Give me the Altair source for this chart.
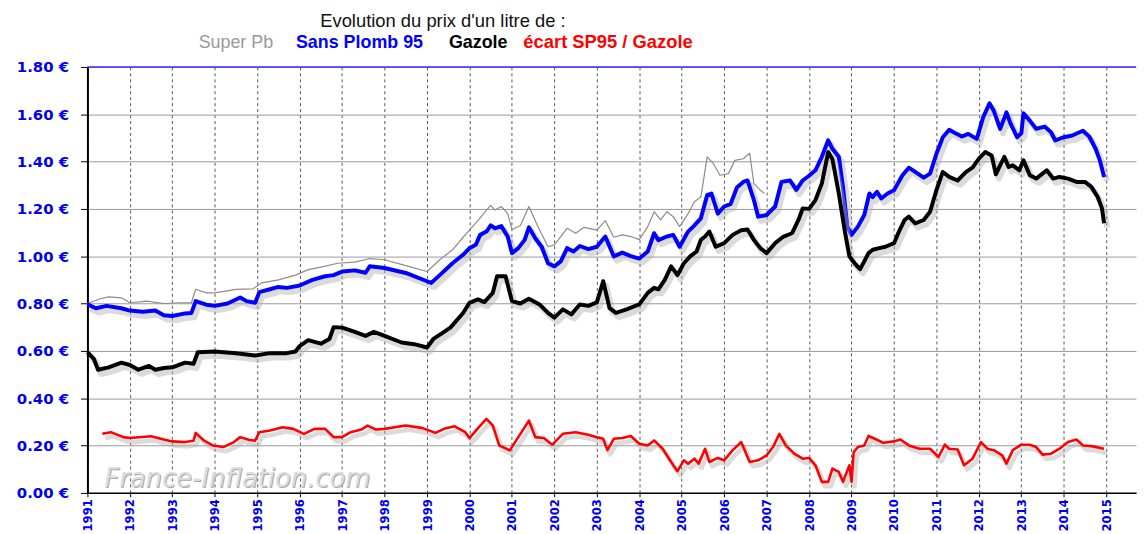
import altair as alt
import pandas as pd

# ---------------- data ----------------
sp95_t = [1991.0, 1991.2, 1991.45, 1991.8, 1992.0, 1992.3, 1992.6, 1992.8, 1993.0, 1993.3, 1993.45, 1993.55,
          1993.8, 1994.0, 1994.3, 1994.6, 1994.75, 1994.95, 1995.05, 1995.3, 1995.5, 1995.7, 1996.0, 1996.3,
          1996.6, 1996.8, 1997.0, 1997.3, 1997.55, 1997.65, 1998.0, 1998.5, 1999.0, 1999.1, 1999.3, 1999.6,
          1999.85, 2000.0, 2000.15, 2000.25, 2000.4, 2000.5, 2000.6, 2000.75, 2000.9, 2001.0, 2001.15, 2001.3,
          2001.4, 2001.55, 2001.7, 2001.85, 2002.0, 2002.15, 2002.3, 2002.45, 2002.6, 2002.8, 2003.0, 2003.2,
          2003.4, 2003.6, 2003.8, 2004.0, 2004.2, 2004.35, 2004.45, 2004.65, 2004.8, 2004.95, 2005.15, 2005.3,
          2005.45, 2005.6, 2005.7, 2005.85, 2006.0, 2006.15, 2006.3, 2006.45, 2006.55, 2006.7, 2006.8, 2007.0,
          2007.2, 2007.35, 2007.55, 2007.7, 2007.85, 2008.0, 2008.15, 2008.3, 2008.45, 2008.55, 2008.7, 2008.8,
          2008.9, 2009.0, 2009.15, 2009.3, 2009.42, 2009.5, 2009.6, 2009.7, 2009.85, 2010.0, 2010.2, 2010.35,
          2010.5, 2010.7, 2010.85, 2011.0, 2011.15, 2011.3, 2011.45, 2011.6, 2011.75, 2011.95, 2012.1, 2012.25,
          2012.35, 2012.5, 2012.65, 2012.75, 2012.9, 2013.0, 2013.05, 2013.2, 2013.35, 2013.55, 2013.7, 2013.8,
          2014.0, 2014.2, 2014.45, 2014.6, 2014.75, 2014.85, 2014.95]
sp95_v = [0.796, 0.78, 0.79, 0.78, 0.77, 0.765, 0.77, 0.75, 0.747, 0.758, 0.76, 0.81,
          0.795, 0.79, 0.80, 0.825, 0.81, 0.803, 0.848, 0.86, 0.87, 0.866, 0.876, 0.90,
          0.915, 0.92, 0.935, 0.94, 0.93, 0.957, 0.95, 0.929, 0.894, 0.887, 0.92, 0.97,
          1.006, 1.034, 1.048, 1.09, 1.104, 1.13, 1.118, 1.127, 1.083, 1.013, 1.034, 1.069,
          1.122, 1.076, 1.04, 0.97, 0.957, 0.978, 1.034, 1.02, 1.043, 1.03, 1.04, 1.083,
          0.999, 1.015, 1.0, 0.99, 1.02, 1.097, 1.068, 1.083, 1.09, 1.04, 1.104, 1.13,
          1.16, 1.258, 1.265, 1.18, 1.21, 1.22, 1.29, 1.314, 1.32, 1.237, 1.167, 1.174,
          1.21, 1.314, 1.32, 1.28, 1.32, 1.34, 1.363, 1.42, 1.49, 1.454, 1.42, 1.29,
          1.125, 1.09, 1.125, 1.174, 1.265, 1.25, 1.272, 1.244, 1.265, 1.279, 1.342, 1.374,
          1.356, 1.332, 1.349, 1.433, 1.503, 1.534, 1.52, 1.506, 1.517, 1.496, 1.587, 1.646,
          1.615, 1.538, 1.608, 1.559, 1.503, 1.52, 1.604, 1.573, 1.538, 1.548, 1.524, 1.489,
          1.503, 1.51, 1.53, 1.506, 1.454, 1.405, 1.335]

gazole_t = [1991.0, 1991.15, 1991.25, 1991.5, 1991.8, 1992.0, 1992.2, 1992.45, 1992.6, 1992.8, 1993.0, 1993.3,
            1993.5, 1993.6, 1994.0, 1994.5, 1994.95, 1995.3, 1995.7, 1995.9, 1996.0, 1996.2, 1996.5, 1996.7,
            1996.8, 1997.0, 1997.3, 1997.55, 1997.75, 1998.0, 1998.4, 1998.7, 1999.0, 1999.15, 1999.35, 1999.55,
            1999.85, 2000.0, 2000.2, 2000.35, 2000.55, 2000.65, 2000.85, 2001.0, 2001.2, 2001.4, 2001.65, 2001.85,
            2002.0, 2002.2, 2002.4, 2002.6, 2002.8, 2003.0, 2003.15, 2003.3, 2003.45, 2003.7, 2004.0, 2004.2,
            2004.35, 2004.45, 2004.6, 2004.75, 2004.9, 2005.05, 2005.2, 2005.35, 2005.45, 2005.55, 2005.65, 2005.8,
            2006.0, 2006.2, 2006.4, 2006.55, 2006.7, 2006.85, 2007.0, 2007.2, 2007.4, 2007.6, 2007.75, 2007.85,
            2008.0, 2008.15, 2008.3, 2008.45, 2008.55, 2008.7, 2008.85, 2008.95, 2009.1, 2009.2, 2009.3, 2009.4,
            2009.5, 2009.65, 2009.8, 2010.0, 2010.1, 2010.25, 2010.35, 2010.5, 2010.7, 2010.85, 2011.0, 2011.15,
            2011.3, 2011.5, 2011.7, 2011.85, 2012.0, 2012.15, 2012.3, 2012.4, 2012.5, 2012.6, 2012.7, 2012.8,
            2012.95, 2013.05, 2013.2, 2013.35, 2013.5, 2013.6, 2013.75, 2013.9, 2014.1, 2014.3, 2014.5, 2014.65,
            2014.8, 2014.9, 2014.95]
gazole_v = [0.594, 0.566, 0.52, 0.53, 0.55, 0.54, 0.52, 0.536, 0.52, 0.527, 0.53, 0.55,
            0.545, 0.594, 0.597, 0.59, 0.58, 0.59, 0.59, 0.597, 0.62, 0.645, 0.63, 0.65,
            0.70, 0.698, 0.68, 0.663, 0.68, 0.663, 0.635, 0.628, 0.614, 0.65, 0.674, 0.698,
            0.76, 0.803, 0.817, 0.806, 0.845, 0.915, 0.915, 0.81, 0.80, 0.82, 0.796, 0.76,
            0.74, 0.775, 0.754, 0.796, 0.79, 0.805, 0.894, 0.78, 0.76, 0.775, 0.796, 0.845,
            0.866, 0.86, 0.90, 0.957, 0.92, 0.97, 0.999, 1.02, 1.069, 1.083, 1.104, 1.04,
            1.055, 1.09, 1.11, 1.113, 1.069, 1.034, 1.013, 1.055, 1.083, 1.097, 1.153, 1.202,
            1.20, 1.237, 1.307, 1.44, 1.41, 1.265, 1.097, 0.999, 0.964, 0.945, 0.978, 1.013,
            1.027, 1.034, 1.04, 1.055, 1.097, 1.153, 1.167, 1.139, 1.153, 1.188, 1.279, 1.356,
            1.335, 1.32, 1.356, 1.374, 1.412, 1.44, 1.426, 1.346, 1.384, 1.42, 1.377, 1.384,
            1.363, 1.405, 1.342, 1.328, 1.349, 1.363, 1.328, 1.335, 1.328, 1.314, 1.314, 1.293,
            1.25, 1.202, 1.139]

superpb_t = [1991.0, 1991.3, 1991.5, 1991.8, 1992.0, 1992.4, 1992.8, 1993.2, 1993.45, 1993.55, 1993.8, 1994.0,
             1994.5, 1994.9, 1995.1, 1995.5, 1995.9, 1996.2, 1996.5, 1996.9, 1997.3, 1997.65, 1998.0, 1998.5,
             1999.0, 1999.3, 1999.6, 1999.85, 2000.0, 2000.2, 2000.4, 2000.5, 2000.6, 2000.75, 2000.9, 2001.0,
             2001.2, 2001.4, 2001.6, 2001.85, 2002.0, 2002.3, 2002.5, 2002.7, 2003.0, 2003.2, 2003.4, 2003.6,
             2003.8, 2004.0, 2004.2, 2004.35, 2004.5, 2004.65, 2004.8, 2004.95, 2005.15, 2005.3, 2005.45, 2005.6,
             2005.75, 2005.9, 2006.1, 2006.25, 2006.45, 2006.6, 2006.7, 2006.85, 2006.95]
superpb_v = [0.80, 0.82, 0.828, 0.824, 0.803, 0.81, 0.80, 0.803, 0.803, 0.86, 0.845, 0.845,
             0.86, 0.862, 0.887, 0.90, 0.92, 0.943, 0.954, 0.97, 0.975, 0.99, 0.985, 0.96,
             0.935, 0.985, 1.027, 1.08, 1.11, 1.15, 1.195, 1.215, 1.195, 1.21, 1.18, 1.113,
             1.13, 1.21, 1.13, 1.04, 1.048, 1.118, 1.097, 1.122, 1.11, 1.15, 1.08, 1.09,
             1.083, 1.07, 1.125, 1.188, 1.153, 1.188, 1.167, 1.125, 1.18, 1.23, 1.25, 1.42,
             1.39, 1.342, 1.349, 1.405, 1.412, 1.435, 1.307, 1.279, 1.265]

ecart_t = [1991.35, 1991.55, 1991.85, 1992.0, 1992.5, 1992.8, 1993.0, 1993.3, 1993.5, 1993.55, 1993.75, 1993.95,
           1994.2, 1994.45, 1994.6, 1994.8, 1994.95, 1995.05, 1995.3, 1995.6, 1995.85, 1996.1, 1996.35, 1996.6,
           1996.8, 1997.0, 1997.2, 1997.45, 1997.6, 1997.8, 1998.0, 1998.5, 1998.9, 1999.2, 1999.4, 1999.65,
           1999.9, 2000.0, 2000.2, 2000.4, 2000.55, 2000.7, 2000.95, 2001.15, 2001.4, 2001.55, 2001.75, 2001.95,
           2002.2, 2002.5, 2002.8, 2003.0, 2003.15, 2003.25, 2003.4, 2003.6, 2003.8, 2004.0, 2004.2, 2004.35,
           2004.55, 2004.8, 2004.9, 2005.05, 2005.15, 2005.3, 2005.4, 2005.55, 2005.65, 2005.85, 2006.0, 2006.2,
           2006.4, 2006.6, 2006.8, 2007.0, 2007.15, 2007.3, 2007.45, 2007.65, 2007.85, 2008.0, 2008.15, 2008.3,
           2008.45, 2008.55, 2008.7, 2008.8, 2008.95, 2009.0, 2009.05, 2009.15, 2009.3, 2009.4, 2009.55, 2009.75,
           2010.0, 2010.15, 2010.35, 2010.6, 2010.85, 2011.05, 2011.2, 2011.3, 2011.5, 2011.65, 2011.85, 2012.05,
           2012.2, 2012.35, 2012.55, 2012.65, 2012.8, 2013.0, 2013.2, 2013.35, 2013.5, 2013.7, 2013.9, 2014.1,
           2014.3, 2014.45, 2014.65, 2014.95]
ecart_v = [0.249, 0.256, 0.235, 0.231, 0.239, 0.225, 0.217, 0.214, 0.22, 0.253, 0.22, 0.20,
           0.193, 0.214, 0.235, 0.224, 0.22, 0.256, 0.263, 0.277, 0.27, 0.249, 0.27, 0.27,
           0.235, 0.235, 0.256, 0.267, 0.284, 0.267, 0.27, 0.284, 0.273, 0.253, 0.27, 0.281,
           0.256, 0.231, 0.273, 0.312, 0.284, 0.20, 0.179, 0.235, 0.305, 0.235, 0.231, 0.203,
           0.249, 0.256, 0.245, 0.235, 0.228, 0.18, 0.228, 0.231, 0.24, 0.207, 0.20, 0.221,
           0.186, 0.116, 0.091, 0.137, 0.123, 0.144, 0.123, 0.186, 0.13, 0.147, 0.137, 0.18,
           0.214, 0.13, 0.137, 0.158, 0.193, 0.249, 0.20, 0.165, 0.144, 0.147, 0.116, 0.046,
           0.046, 0.102, 0.088, 0.046, 0.116, 0.046, 0.172, 0.193, 0.20, 0.24, 0.228, 0.211,
           0.217, 0.225, 0.20, 0.186, 0.186, 0.151, 0.203, 0.186, 0.183, 0.116, 0.144, 0.214,
           0.186, 0.18, 0.158, 0.123, 0.18, 0.203, 0.203, 0.193, 0.161, 0.165, 0.186, 0.214,
           0.225, 0.20, 0.197, 0.186]

year_ticks = list(range(1991, 2016))
price_ticks = [round(i * 0.1, 1) for i in range(19)]

title_text = "Evolution du prix d'un litre de :"
legend_labels = ["Super Pb", "Sans Plomb 95", "Gazole", "écart SP95 / Gazole"]
legend_colors = ["#999999", "#0000ff", "#000000", "#ff0000"]
watermark = "France-Inflation.com"

# ---------------- build ----------------
def frame(t, v, s):
    return pd.DataFrame({"t": t, "v": v, "s": s})

df_sp95 = frame(sp95_t, sp95_v, "sp95")
df_gaz = frame(gazole_t, gazole_v, "gazole")
df_spb = frame(superpb_t, superpb_v, "superpb")
df_ec = frame(ecart_t, ecart_v, "ecart")

W, H = 1056, 428.8
x_scale = alt.Scale(domain=[1991, 1991 + W / 42.75], nice=False, zero=False)
y_scale = alt.Scale(domain=[0, 1.8], nice=False, zero=False)

odd = "round(datum.value*10) % 2 == 1"
x_axis = alt.Axis(values=year_ticks, format="d", labelAngle=270, labelColor="#0000ee",
                  labelFont="DejaVu Sans Condensed", labelFontWeight="bold", labelFontSize=13,
                  labelPadding=2, labelOverlap=False, grid=True, gridColor="#555555",
                  gridDash=[3, 3], gridWidth=1, domainColor="#000000", domainWidth=1.5,
                  tickColor="#000000", tickSize=4, title=None)
y_axis = alt.Axis(values=price_ticks,
                  labelExpr="round(datum.value*10) % 2 == 0 ? format(datum.value, '.2f') + ' €' : ''",
                  labelColor="#0000ee", labelFont="DejaVu Sans", labelFontWeight="bold",
                  labelFontSize=15, labelPadding=12,
                  grid=True,
                  gridColor={"condition": {"test": odd, "value": "#666666"}, "value": "#999999"},
                  gridDash={"condition": {"test": odd, "value": [4, 3]}, "value": []},
                  gridWidth=1,
                  tickOpacity={"condition": {"test": odd, "value": 0}, "value": 1},
                  tickColor="#000000", tickSize=7, domainColor="#000000", domainWidth=2,
                  title=None)

def series(df, color, width, shadow=True):
    enc = dict(x=alt.X("t:Q", scale=x_scale, axis=x_axis),
               y=alt.Y("v:Q", scale=y_scale, axis=y_axis))
    main = alt.Chart(df).mark_line(color=color, strokeWidth=width, strokeJoin="round").encode(**enc)
    if not shadow:
        return [main]
    sh = alt.Chart(df).transform_calculate(ts="datum.t + 0.07", vs="datum.v - 0.018").mark_line(
        color="#b0b0b0", strokeWidth=width + 2, opacity=0.45, strokeJoin="round").encode(
        x=alt.X("ts:Q", scale=x_scale, axis=x_axis), y=alt.Y("vs:Q", scale=y_scale, axis=y_axis))
    return [sh, main]

one = pd.DataFrame({"a": [0]})
top_rule = alt.Chart(one).mark_rule(color="#3333ff", strokeWidth=1.5).encode(
    y=alt.datum(1.8, scale=y_scale), x=alt.value(0), x2=alt.value(W))

def label(text, x, y, color, size, weight="normal", align="left", font="Liberation Sans", italic=False):
    return alt.Chart(one).mark_text(align=align, baseline="alphabetic", fontSize=size, fontWeight=weight,
                                    font=font, color=color,
                                    fontStyle="italic" if italic else "normal").encode(
        x=alt.value(x), y=alt.value(y), text=alt.value(text))

texts = [
    label(title_text, 358, -40, "#111111", 18.5, align="center"),
    label(legend_labels[0], 112, -19.5, legend_colors[0], 18),
    label(legend_labels[1], 210, -19.5, legend_colors[1], 18, "bold"),
    label(legend_labels[2], 364, -19.5, legend_colors[2], 18, "bold"),
    label(legend_labels[3], 439, -19.5, legend_colors[3], 18.5, "bold"),
    label(watermark, 18, 424, "#a8a8a8", 26, italic=True, font="DejaVu Sans"),
    label(watermark, 17, 423, "#dcdcdc", 26, italic=True, font="DejaVu Sans"),
]

layers = texts[5:] + series(df_spb, "#8c8c8c", 1.2, shadow=False) + series(df_ec, "#ff0000", 2.6) \
    + series(df_sp95, "#0000ff", 4) + series(df_gaz, "#000000", 4) + [top_rule] + texts[:5]

chart = alt.layer(*layers).properties(
    width=W, height=H,
    autosize=alt.AutoSizeParams(type="none"),
    padding={"left": 80, "top": 57.5, "right": 2, "bottom": 38},
    background="white",
).configure_view(strokeWidth=0)

chart.save("out.html", embed_options={"renderer": "svg", "actions": False})
